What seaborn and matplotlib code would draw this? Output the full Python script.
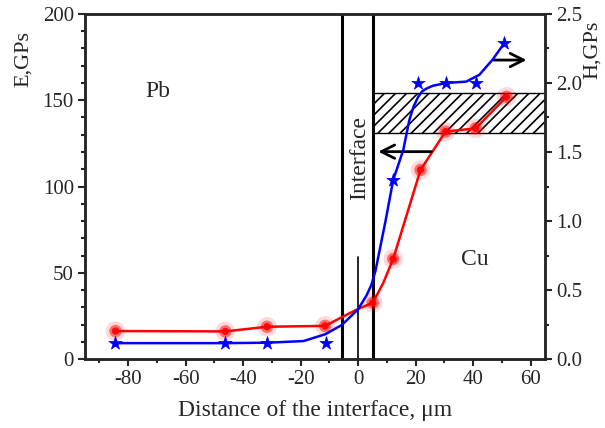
import numpy as np
import pandas as pd
import matplotlib
matplotlib.use("Agg")
import matplotlib.pyplot as plt
import seaborn as sns

# === Values ===
# measured points (distance in um)
e_x = [-84.4, -46.2, -31.7, -11.5, 5.1, 12.2, 21.7, 30.4, 40.9, 51.6]
e_val = [16.2, 16.0, 18.7, 19.2, 32.6, 58.0, 109.6, 131.8, 133.7, 152.0]
h_x = [-84.4, -46.2, -31.7, -11.2, 12.2, 20.9, 30.7, 40.9, 50.9]
h_val = [0.115, 0.115, 0.115, 0.118, 1.297, 2.0, 2.0, 2.0, 2.29]

# smooth curves as drawn in the figure
e_curve_x = [-84.4, -46.2, -31.7, -11.5, -5.7, -0.3, 5.1, 8.7, 12.2, 21.7, 30.4, 40.9, 51.6]
e_curve = [16.2, 16.0, 18.7, 19.2, 24.2, 28.8, 32.6, 43.9, 58.0, 109.6, 131.8, 133.7, 152.0]
h_curve_x = [-84.4, -46.2, -31.7, -19.0, -11.5, -5.7, 0.0, 3.0, 4.6, 6.1, 7.5, 9.6, 12.2,
             15.7, 17.8, 19.3, 20.9, 22.3, 23.8, 26.0, 30.7, 37.6, 42.2, 46.8, 50.9]
h_curve = [0.115, 0.115, 0.118, 0.13, 0.179, 0.246, 0.36, 0.464, 0.536, 0.645, 0.79, 1.007, 1.297,
           1.514, 1.73, 1.83, 1.90, 1.94, 1.96, 1.98, 2.0, 2.01, 2.06, 2.17, 2.29]

band_low, band_high = 131.2, 154.4
band_x = [5.1, 65]
iface_left, iface_right = -5.7, 5.1

sns.set_style("ticks")
plt.rcParams["font.family"] = ["Liberation Serif", "DejaVu Serif"]
plt.rcParams["hatch.linewidth"] = 1.2
plt.rcParams["axes.unicode_minus"] = False

fig = plt.figure(figsize=(6.05, 4.28), dpi=100)
ax = fig.add_axes([0.1405, 0.1612, 0.7603, 0.8061])
ax2 = ax.twinx()

# === E curve (left axis) ===
sns.lineplot(x=e_curve_x, y=e_curve, ax=ax, color="#ff0000", lw=1.8, zorder=3)
sns.scatterplot(x=e_x, y=e_val, ax=ax, color="#ff0000", s=200, alpha=0.15,
                edgecolor="none", zorder=4)
sns.scatterplot(x=e_x, y=e_val, ax=ax, color="#ff0000", s=80, alpha=0.5,
                edgecolor="none", zorder=4)
sns.scatterplot(x=e_x, y=e_val, ax=ax, color="#ff0000", s=28, alpha=0.9,
                edgecolor="none", zorder=4)

# === H curve (right axis) ===
sns.lineplot(x=h_curve_x, y=h_curve, ax=ax2, color="#0000ff", lw=1.8, zorder=3)
sns.scatterplot(x=h_x, y=h_val, ax=ax2, color="#0000ff", marker="*", s=100,
                edgecolor="#0000ff", linewidth=0.5, zorder=4)

# === interface lines and hatched band ===
ax.axvline(iface_left, color="black", lw=2.2, zorder=2)
ax.axvline(iface_right, color="black", lw=2.2, zorder=2)
ax.plot([0, 0], [0, 59.3], color="black", lw=1.2, zorder=2)
ax.fill_between(band_x, band_low, band_high, facecolor="none", edgecolor="black",
                hatch="///", lw=1.0, zorder=1)

arrow = dict(arrowstyle="->", color="black", lw=2, mutation_scale=24, shrinkA=0, shrinkB=0)
ax.annotate("", xy=(58.6, 173.3), xytext=(47.1, 173.3), arrowprops=arrow)
ax.annotate("", xy=(7.0, 120.2), xytext=(25.5, 120.2), arrowprops=arrow)

ax.text(0.5, 116.5, "Interface", rotation=90, ha="center", va="center", fontsize=17)
ax.text(-69.8, 155, "Pb", ha="center", va="center", fontsize=17)
ax.text(40.6, 57.4, "Cu", ha="center", va="center", fontsize=17)

# === axes ===
ax.set_xlim(-95, 65)
ax.set_ylim(0, 200)
ax2.set_ylim(0, 2.5)
ax.set_xticks(np.arange(-80, 61, 20))
ax.set_xticks(np.arange(-90, 61, 10), minor=True)
ax.set_yticks(np.arange(0, 201, 50))
ax.set_yticks(np.arange(0, 201, 10), minor=True)
ax2.set_yticks(np.arange(0, 2.51, 0.5))
ax2.set_yticks(np.arange(0, 2.51, 0.25), minor=True)
ax2.yaxis.set_major_formatter(matplotlib.ticker.FormatStrFormatter("%.1f"))

for a in (ax, ax2):
    a.tick_params(which="major", direction="out", length=5, width=1.5, labelsize=15, pad=3)
    a.tick_params(which="minor", direction="out", length=3, width=1.5)
    for sp in a.spines.values():
        sp.set_linewidth(1.8)
        sp.set_visible(True)

ax.set_xlabel("Distance of the interface, \u03bcm", fontsize=17, labelpad=8)
ax.set_ylabel("E,GPs", fontsize=16)
ax2.set_ylabel("H,GPs", fontsize=16)
ax.yaxis.set_label_coords(-0.113, 0.87)
ax2.yaxis.set_label_coords(1.083, 0.896)

fig.savefig("out.png", dpi=100)
